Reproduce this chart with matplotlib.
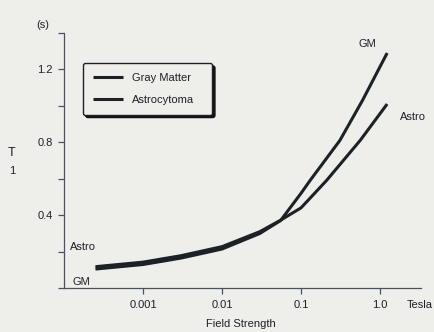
import numpy as np
import matplotlib
matplotlib.use('Agg')
import matplotlib.pyplot as plt

plt.rcParams['font.family'] = ['Liberation Sans', 'DejaVu Sans']

# field strength (tesla) and T1 (s)
gm_field = [0.00025, 0.001, 0.003, 0.01, 0.03, 0.055, 0.1, 0.13, 0.31, 0.6, 1.23]
gm_t1 = [0.104, 0.129, 0.164, 0.214, 0.299, 0.37, 0.52, 0.59, 0.81, 1.03, 1.29]

astro_field = [0.00025, 0.001, 0.003, 0.01, 0.03, 0.055, 0.1, 0.21, 0.56, 1.23]
astro_t1 = [0.117, 0.142, 0.177, 0.227, 0.309, 0.372, 0.44, 0.59, 0.81, 1.01]

xticks = [0.001, 0.01, 0.1, 1.0]
xticklabels = ['0.001', '0.01', '0.1', '1.0']
yticks = [0, 0.2, 0.4, 0.6, 0.8, 1.0, 1.2, 1.4]
yticklabels = ['', '', '0.4', '', '0.8', '', '1.2', '']

bg = '#eeeeeb'
ink = '#1c2126'
axcol = '#4a505c'
fs = 8

fig = plt.figure(figsize=(4.34, 3.32), dpi=100, facecolor=bg)
ax = fig.add_axes([64 / 434, 1 - 288 / 332, 357 / 434, 255 / 332])
ax.set_facecolor(bg)

ax.plot(gm_field, gm_t1, color=ink, lw=2.2, solid_capstyle='butt', label='Gray Matter')
ax.plot(astro_field, astro_t1, color=ink, lw=2.2, solid_capstyle='butt', label='Astrocytoma')

ax.set_xscale('log')
ax.set_xlim(1e-4, 3.3)
ax.set_ylim(0, 1.4)
ax.set_xticks(xticks)
ax.set_xticklabels(xticklabels)
ax.xaxis.set_minor_locator(matplotlib.ticker.NullLocator())
ax.set_yticks(yticks)
ax.set_yticklabels(yticklabels)

for s in ['top', 'right']:
    ax.spines[s].set_visible(False)
for s in ['left', 'bottom']:
    ax.spines[s].set_color(axcol)
    ax.spines[s].set_linewidth(0.9)
ax.tick_params(axis='both', colors=axcol, labelcolor=ink, labelsize=fs, width=0.9)
ax.tick_params(axis='x', length=4, pad=4.5)
ax.tick_params(axis='y', length=4, pad=4)

# curve labels
ax.text(1.75e-4, 0.225, 'Astro', fontsize=fs, color=ink, ha='center', va='center')
ax.text(1.66e-4, 0.033, 'GM', fontsize=fs, color=ink, ha='center', va='center')
ax.text(0.70, 1.342, 'GM', fontsize=fs, color=ink, ha='center', va='center')
ax.text(2.62, 0.937, 'Astro', fontsize=fs, color=ink, ha='center', va='center')

# axis annotations
fig.text(43 / 434, 1 - 25 / 332, '(s)', fontsize=fs, color=ink, ha='center', va='center')
fig.text(12 / 434, 1 - 153 / 332, 'T', fontsize=9, color=ink, ha='center', va='center')
fig.text(12 / 434, 1 - 171 / 332, '1', fontsize=fs, color=ink, ha='center', va='center')
fig.text(433 / 434, 1 - 305 / 332, 'Tesla', fontsize=fs, color=ink, ha='right', va='center')
fig.text(241 / 434, 1 - 324 / 332, 'Field Strength', fontsize=fs, color=ink, ha='center', va='center')

leg = ax.legend(loc='upper left', bbox_to_anchor=(0.053, 0.667, 0.362, 0.215), mode='expand',
                borderaxespad=0, fontsize=fs, handlelength=2.7, handletextpad=0.8,
                labelspacing=1.05, borderpad=0.9, fancybox=True, framealpha=1,
                facecolor=bg, edgecolor=ink,
                shadow={'color': '#111111', 'alpha': 1})
leg.get_frame().set_linewidth(1.0)
for t in leg.get_texts():
    t.set_color(ink)

fig.savefig('out.png', dpi=100, facecolor=bg)
